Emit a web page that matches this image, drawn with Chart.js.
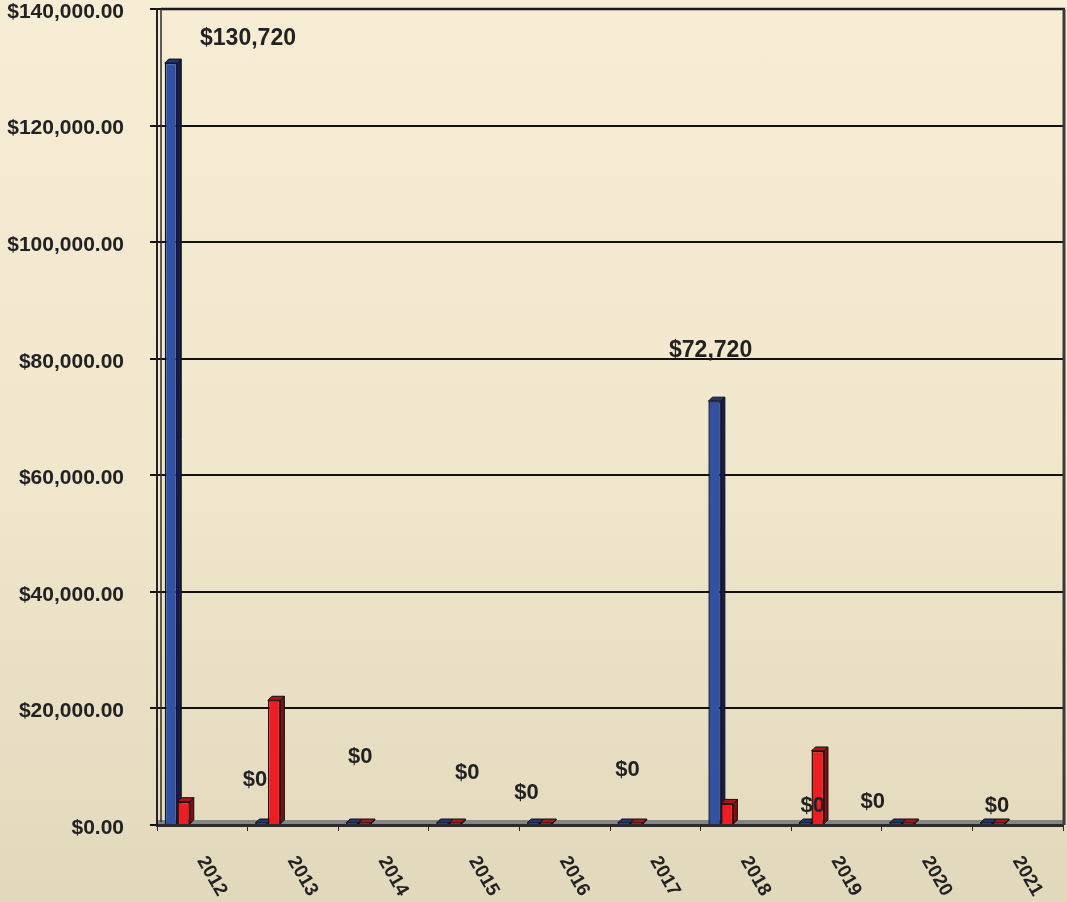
<!DOCTYPE html>
<html>
<head>
<meta charset="utf-8">
<script src="https://cdn.jsdelivr.net/npm/chart.js@4.4.1/dist/chart.umd.min.js"></script>
<style>
  html, body { margin: 0; padding: 0; }
  body { width: 1067px; height: 902px; background: linear-gradient(to bottom, #f7ecd4 0%, #f1e7cd 50%, #e2d8bc 100%); overflow: hidden; }
  #wrap { position: relative; width: 1067px; height: 902px; }
</style>
</head>
<body>
<div id="wrap"><canvas id="c"></canvas></div>
<script>
// ---- data ----
const years = ['2012', '2013', '2014', '2015', '2016', '2017', '2018', '2019', '2020', '2021'];
const blueValues = [130720, 0, 0, 0, 0, 0, 72720, 0, 0, 0];
const redValues = [4000, 21400, 0, 0, 0, 0, 3700, 12700, 0, 0];
const yMin = 0;
const yMax = 140000;
const yStep = 20000;

// ---- label placement (style only, pixels relative to blue bar top) ----
const labelDx = [77, -6.5, 8, 24.5, -7, 3.5, -4, 7.5, -23, 10.5];
const labelDy = [-24, -45, -68, -52, -32, -55, -50, -19, -23, -19];

const FONT = '"Liberation Sans", Arial, sans-serif';
const DEPTH = 4;

function money0(v) { return '$' + v.toLocaleString('en-US'); }
function money2(v) { return '$' + v.toLocaleString('en-US', { minimumFractionDigits: 2, maximumFractionDigits: 2 }); }

const threeD = {
  id: 'threeD',
  beforeDatasetsDraw(chart) {
    const ctx = chart.ctx;
    const sides = ['#141c4a', '#7d1014'];
    const tops = ['#23346f', '#9e1a1e'];
    [0, 1].forEach(di => {
      const meta = chart.getDatasetMeta(di);
      meta.data.forEach(el => {
        const p = el.getProps(['x', 'y', 'base', 'width'], true);
        const l = p.x - p.width / 2, r = p.x + p.width / 2;
        const top = Math.min(p.y, p.base), bot = Math.max(p.y, p.base);
        ctx.save();
        ctx.lineWidth = 1;
        ctx.strokeStyle = '#111';
        ctx.fillStyle = sides[di];
        ctx.beginPath();
        ctx.moveTo(r, top); ctx.lineTo(r + DEPTH, top - DEPTH); ctx.lineTo(r + DEPTH, bot - DEPTH); ctx.lineTo(r, bot);
        ctx.closePath(); ctx.fill(); ctx.stroke();
        ctx.fillStyle = tops[di];
        ctx.beginPath();
        ctx.moveTo(l, top); ctx.lineTo(l + DEPTH, top - DEPTH); ctx.lineTo(r + DEPTH, top - DEPTH); ctx.lineTo(r, top);
        ctx.closePath(); ctx.fill(); ctx.stroke();
        ctx.restore();
      });
    });
  },
  beforeDraw(chart) {
    const { ctx, chartArea: a } = chart;
    ctx.save();
    ctx.fillStyle = '#858585';
    ctx.fillRect(a.left, a.bottom - 5, a.right - a.left, 5);
    ctx.restore();
  },
  afterDraw(chart) {
    const { ctx, chartArea: a, scales } = chart;
    ctx.save();
    ctx.strokeStyle = '#1a1a1a';
    ctx.lineWidth = 2.5;
    ctx.beginPath(); ctx.moveTo(a.left + 4, a.top); ctx.lineTo(a.right + 2, a.top); ctx.stroke();
    ctx.strokeStyle = '#3a3a3a';
    ctx.lineWidth = 3;
    ctx.beginPath(); ctx.moveTo(a.right + 1, a.top); ctx.lineTo(a.right + 1, a.bottom); ctx.stroke();
    ctx.strokeStyle = '#2a2a2a';
    ctx.lineWidth = 1.5;
    ctx.beginPath(); ctx.moveTo(a.left + 4, a.top - 1); ctx.lineTo(a.left + 4, a.bottom - 3); ctx.stroke();
    // x labels rotated clockwise
    const xs = scales.x;
    ctx.fillStyle = '#222';
    ctx.font = 'bold 19px ' + FONT;
    ctx.textAlign = 'left';
    ctx.textBaseline = 'middle';
    years.forEach((y, i) => {
      const px = xs.getPixelForValue(i);
      ctx.save();
      ctx.translate(px - 1, a.bottom + 33);
      ctx.rotate(60 * Math.PI / 180);
      ctx.fillText(y, 0, 0);
      ctx.restore();
    });
    // data labels for blue series
    const ys = scales.y;
    const meta = chart.getDatasetMeta(0);
    ctx.textAlign = 'center';
    blueValues.forEach((v, i) => {
      const el = meta.data[i];
      const bx = el.x;
      const by = ys.getPixelForValue(v);
      ctx.font = (v > 0 ? 'bold 23px ' : 'bold 22px ') + FONT;
      ctx.fillText(money0(v), bx + labelDx[i], by + labelDy[i]);
    });
    ctx.restore();
  }
};

new Chart(document.getElementById('c'), {
  type: 'bar',
  data: {
    labels: years,
    datasets: [
      { label: 'A', data: blueValues, backgroundColor: '#3152a3', borderColor: '#0f1540', borderWidth: 1.5, minBarLength: 2 },
      { label: 'B', data: redValues, backgroundColor: '#ee1d24', borderColor: '#3a0a0a', borderWidth: 1.5, minBarLength: 2 },
      { label: 's1', data: [] },
      { label: 's2', data: [] },
      { label: 's3', data: [] },
      { label: 's4', data: [] }
    ]
  },
  options: {
    responsive: true,
    maintainAspectRatio: false,
    animation: false,
    categoryPercentage: 0.829,
    barPercentage: 1,
    layout: { padding: { top: 9, right: 4, left: 0, bottom: 0 } },
    plugins: { legend: { display: false }, tooltip: { enabled: false } },
    scales: {
      x: {
        offset: true,
        ticks: { display: false },
        grid: { display: true, drawOnChartArea: false, drawTicks: true, tickLength: 6, color: '#222', offset: true },
        border: { display: true, color: '#2a2a2a', width: 3 },
        afterFit(s) { s.height = 77; s.paddingLeft = 0; s.paddingRight = 0; }
      },
      y: {
        min: yMin,
        max: yMax,
        ticks: {
          stepSize: yStep,
          padding: 26,
          labelOffset: 3,
          color: '#222',
          font: { family: FONT, size: 21, weight: 'bold' },
          callback: v => money2(v)
        },
        grid: { color: '#111', lineWidth: 2, drawTicks: true, tickLength: 7 },
        border: { display: true, color: '#222', width: 2 },
        afterFit(s) { s.width = 157; s.paddingTop = 0; s.paddingBottom = 0; }
      }
    }
  },
  plugins: [threeD]
});
</script>
</body>
</html>
